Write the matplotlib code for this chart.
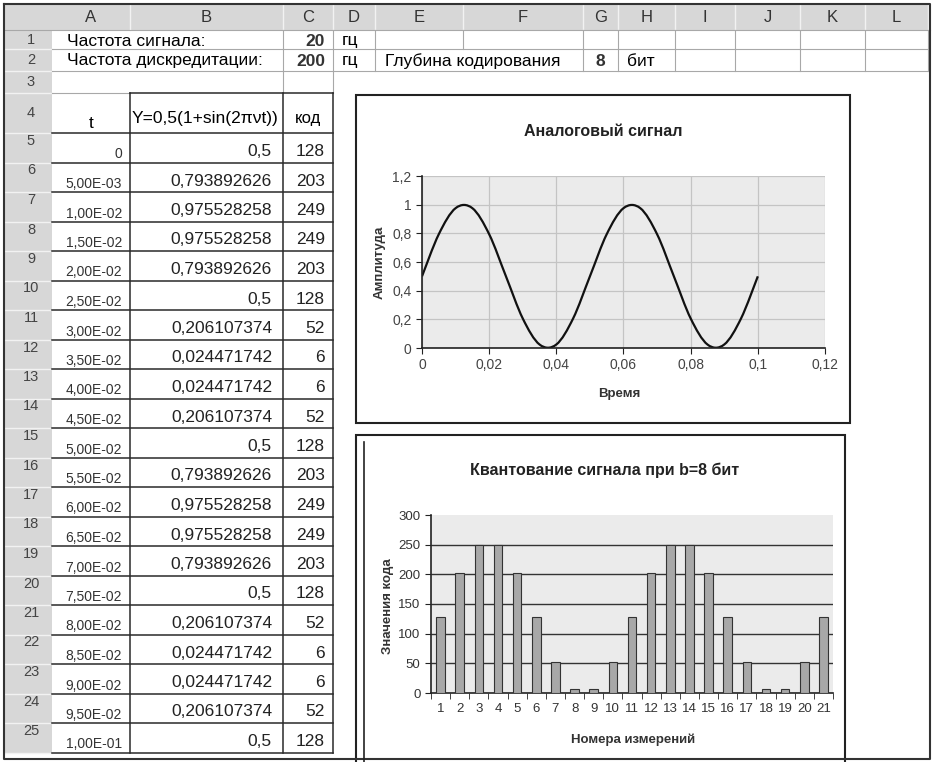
import numpy as np
import matplotlib
matplotlib.use("Agg")
import matplotlib.pyplot as plt
from matplotlib.path import Path
from matplotlib.patches import Rectangle, PathPatch

plt.rcParams['font.family'] = ['Liberation Sans', 'DejaVu Sans']

# --- data ---
freq_signal = 20
freq_sample = 200
bits = 8
t_vals = [0, 5.00e-03, 1.00e-02, 1.50e-02, 2.00e-02, 2.50e-02, 3.00e-02, 3.50e-02,
          4.00e-02, 4.50e-02, 5.00e-02, 5.50e-02, 6.00e-02, 6.50e-02, 7.00e-02,
          7.50e-02, 8.00e-02, 8.50e-02, 9.00e-02, 9.50e-02, 1.00e-01]
y_vals = [0.5, 0.793892626, 0.975528258, 0.975528258, 0.793892626, 0.5,
          0.206107374, 0.024471742, 0.024471742, 0.206107374, 0.5, 0.793892626,
          0.975528258, 0.975528258, 0.793892626, 0.5, 0.206107374, 0.024471742,
          0.024471742, 0.206107374, 0.5]
codes = [128, 203, 249, 249, 203, 128, 52, 6, 6, 52, 128, 203, 249, 249, 203,
         128, 52, 6, 6, 52, 128]
col_letters = list("ABCDEFGHIJKL")
meas_labels = [str(i) for i in range(1, len(codes) + 1)]

W, H = 945, 762
fig = plt.figure(figsize=(W / 100, H / 100), dpi=100)


def fbox(x0, y0, x1, y1):
    # pixel box (top-left origin) -> figure fraction rect
    return [x0 / W, 1 - y1 / H, (x1 - x0) / W, (y1 - y0) / H]


# ---- spreadsheet layer (pixel coordinates) ----
sh = fig.add_axes([0, 0, 1, 1])
sh.set_xlim(0, W); sh.set_ylim(H, 0); sh.axis("off")

col_edges = [52, 130, 283, 333, 375, 463, 583, 618, 675, 735, 800, 865, 928]
row_top = [30, 49, 71, 93] + [133 + i * 29.5 for i in range(22)]
light, dark, hdr = "#a8a8a8", "#2a2a2a", "#d7d7d7"
fs_cell = 12.5

sh.add_patch(Rectangle((4, 4), 926, 26, fc=hdr, ec="none"))
sh.add_patch(Rectangle((4, 30), 48, row_top[-1] - 30, fc=hdr, ec="none"))
for i, c in enumerate(col_letters):
    sh.plot([col_edges[i + 1]] * 2, [4, 30], color="#f2f2f2", lw=1)
    sh.text((col_edges[i] + col_edges[i + 1]) / 2, 18, c, ha="center", va="center",
            fontsize=12, color="#333")
sh.plot([4, 930], [30, 30], color=light, lw=0.8)
for r in range(1, 26):
    yt, yb = row_top[r - 1], row_top[r]
    sh.plot([4, 52], [yb, yb], color="#f2f2f2", lw=1)
    yy = (yt + yb) / 2 if r <= 4 else yt + 8
    sh.text(31, yy, str(r), ha="center", va="center", fontsize=10.5, color="#444")

# light sheet grid, rows 1-3
for y in (49, 71):
    sh.plot([52, 928], [y, y], color=light, lw=0.8)
for x in col_edges[2:]:
    sh.plot([x, x], [30, 49], color=light, lw=0.8)
    if x != 463:
        sh.plot([x, x], [49, 71], color=light, lw=0.8)
for x in (283, 333):
    sh.plot([x, x], [71, 93], color=light, lw=0.8)
sh.plot([52, 130], [93, 93], color=light, lw=0.8)

# row 1-2 texts
sh.text(67, 41, "Частота сигнала:", fontsize=fs_cell, va="center")
sh.text(325, 41, str(freq_signal), fontsize=fs_cell, va="center", ha="right",
        fontweight="bold", color="#333")
sh.text(342, 40, "гц", fontsize=fs_cell, va="center")
sh.text(67, 61, "Частота дискредитации:", fontsize=fs_cell, va="center")
sh.text(325, 61, str(freq_sample), fontsize=fs_cell, va="center", ha="right",
        fontweight="bold", color="#333")
sh.text(342, 60, "гц", fontsize=fs_cell, va="center")
sh.text(385, 61, "Глубина кодирования", fontsize=fs_cell, va="center")
sh.text(600, 61, str(bits), fontsize=fs_cell, va="center", ha="center",
        fontweight="bold", color="#333")
sh.text(627, 61, "бит", fontsize=fs_cell, va="center")

# table A4:C25
for x in (130, 283, 333):
    sh.plot([x, x], [93, row_top[-1]], color=dark, lw=1.1)
sh.plot([130, 333], [93, 93], color=dark, lw=1.1)
for y in row_top[4:]:
    sh.plot([52, 333], [y, y], color=dark, lw=1.1)
sh.text(91, 124, "t", fontsize=fs_cell, ha="center", va="center")
sh.text(132, 119, "Y=0,5(1+sin(2πνt))", fontsize=fs_cell, va="center")
sh.text(308, 119, "код", fontsize=12, ha="center", va="center")
for i in range(len(t_vals)):
    yb = row_top[4 + i + 1]
    ts = "0" if t_vals[i] == 0 else f"{t_vals[i]:.2E}".replace(".", ",")
    sh.text(122, yb - 8, ts, fontsize=10, ha="right", va="center", color="#333")
    sh.text(272, yb - 11, f"{y_vals[i]:.9g}".replace(".", ","), fontsize=fs_cell,
            ha="right", va="center", color="#222")
    sh.text(325, yb - 11, str(codes[i]), fontsize=fs_cell, ha="right", va="center",
            color="#222")

sh.plot([4, 930, 930, 4, 4], [4, 4, 759, 759, 4], color="#333", lw=1.5)

# chart frames
sh.add_patch(Rectangle((356, 95), 494, 328, fc="white", ec="#222", lw=1.5))
sh.add_patch(Rectangle((356, 435), 489, 335, fc="white", ec="#222", lw=1.5))
sh.plot([364, 364], [442, 762], color="#222", lw=1.2)

# ---- chart 1: analog signal ----
ax1 = fig.add_axes(fbox(422, 176, 825, 348))
ax1.set_facecolor("#ebebeb")
ax1.set_xlim(0, 0.12); ax1.set_ylim(0, 1.2)
xt = np.round(np.arange(0, 0.121, 0.02), 2)
yt = np.round(np.arange(0, 1.21, 0.2), 1)
ax1.set_xticks(xt, ["0" if v == 0 else f"{v:g}".replace(".", ",") for v in xt])
ax1.set_yticks(yt, [f"{v:g}".replace(".", ",") for v in yt])
ax1.grid(True, color="#c4c4c4", lw=0.9)
ax1.set_axisbelow(True)
for s in ("top", "right"):
    ax1.spines[s].set_visible(False)
for s in ("left", "bottom"):
    ax1.spines[s].set_color("#222"); ax1.spines[s].set_linewidth(1.2)
ax1.tick_params(direction="out", length=4, color="#222", labelsize=10,
                labelcolor="#444")

# smoothed line through the table points (Catmull-Rom as Bezier, like Excel)
P = np.column_stack([t_vals, y_vals])
Pe = np.vstack([P[0], P, P[-1]])
verts, pcodes = [P[0]], [Path.MOVETO]
for i in range(len(P) - 1):
    p0, p1, p2, p3 = Pe[i], Pe[i + 1], Pe[i + 2], Pe[i + 3]
    verts += [p1 + (p2 - p0) / 6, p2 - (p3 - p1) / 6, p2]
    pcodes += [Path.CURVE4] * 3
ax1.add_patch(PathPatch(Path(verts, pcodes), fc="none", ec="#111", lw=1.6))

ax1.set_xlabel("Время", fontsize=9.5, fontweight="bold", color="#333")
ax1.xaxis.set_label_coords(0.49, -0.27)
ax1.xaxis.label.set_va("center")
ax1.set_ylabel("Амплитуда", fontsize=9.5, fontweight="bold", color="#333")
ax1.yaxis.set_label_coords(-0.104, 0.5)
ax1.yaxis.label.set_va("center")
fig.text(603 / W, 1 - 132 / H, "Аналоговый сигнал", ha="center", va="center",
         fontsize=11.5, fontweight="bold", color="#222")

# ---- chart 2: quantized codes ----
ax2 = fig.add_axes(fbox(431, 515, 833, 693))
ax2.set_facecolor("#ebebeb")
x = np.arange(len(codes))
ax2.bar(x, codes, width=0.45, color="#a8a8a8", edgecolor="#333", lw=0.8, zorder=3)
ax2.set_xlim(-0.5, len(codes) - 0.5); ax2.set_ylim(0, 300)
yt2 = np.arange(0, 301, 50)
ax2.set_yticks(yt2)
ax2.hlines(yt2[1:-1], -0.5, len(codes) - 0.5, color="#333", lw=1, zorder=1)
ax2.set_xticks(x, meas_labels)
ax2.set_xticks(np.arange(-0.5, len(codes)), minor=True)
ax2.tick_params(axis="x", which="major", length=0, pad=7)
ax2.tick_params(axis="x", which="minor", length=4, direction="out", color="#222")
ax2.tick_params(axis="y", length=4, direction="out", color="#222")
ax2.tick_params(labelsize=9.5, labelcolor="#333")
for s in ("top", "right"):
    ax2.spines[s].set_visible(False)
for s in ("left", "bottom"):
    ax2.spines[s].set_color("#222"); ax2.spines[s].set_linewidth(1.2)
ax2.set_xlabel("Номера измерений", fontsize=9.5, fontweight="bold", color="#333")
ax2.xaxis.set_label_coords(0.502, -0.264)
ax2.xaxis.label.set_va("center")
ax2.set_ylabel("Значения кода", fontsize=9.5, fontweight="bold", color="#333")
ax2.yaxis.set_label_coords(-0.107, 0.49)
ax2.yaxis.label.set_va("center")
fig.text(605 / W, 1 - 470 / H, "Квантование сигнала при b=8 бит", ha="center",
         va="center", fontsize=11.5, fontweight="bold", color="#222")

fig.savefig("out.png", dpi=100)
